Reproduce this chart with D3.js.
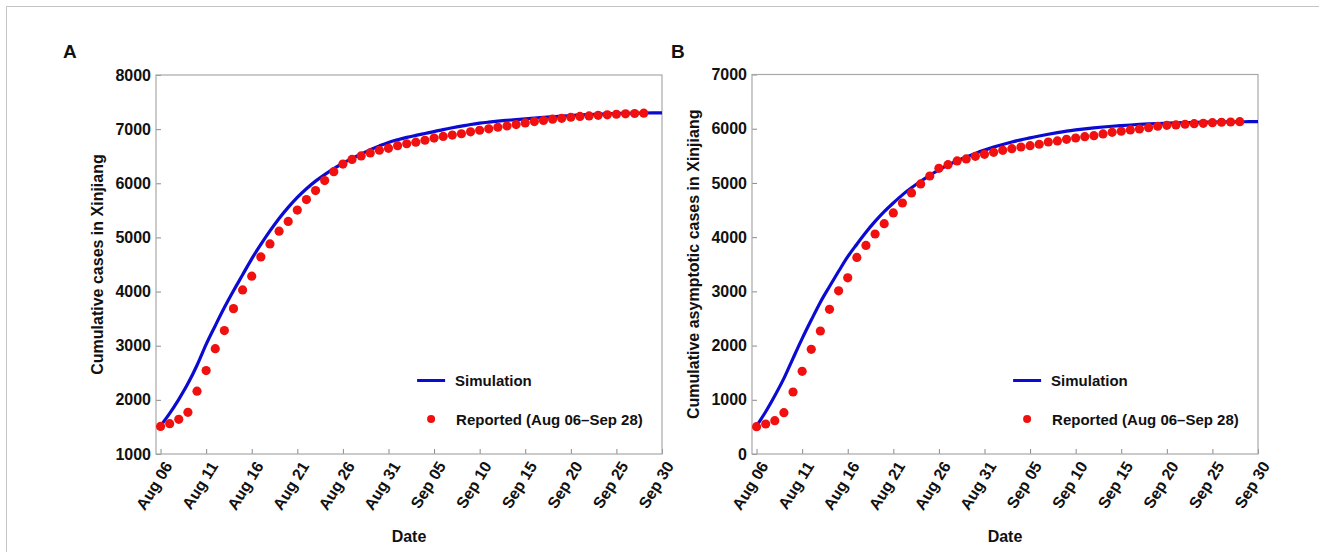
<!DOCTYPE html>
<html>
<head>
<meta charset="utf-8">
<script src="https://cdn.jsdelivr.net/npm/d3@7"></script>
<style>
  body { margin: 0; background: #fff; }
  text { font-family: "Liberation Sans", Arial, sans-serif; font-weight: bold; fill: #111; }
</style>
</head>
<body>
<svg id="fig" width="1319" height="552"></svg>
<script>
(function() {
  // reported data start Aug 06, one value per day up to Sep 28
  var startDay = '2022-08-06';
  var xTickLabels = ['Aug 06', 'Aug 11', 'Aug 16', 'Aug 21', 'Aug 26', 'Aug 31',
                     'Sep 05', 'Sep 10', 'Sep 15', 'Sep 20', 'Sep 25', 'Sep 30'];
  var yTicksA = [1000, 2000, 3000, 4000, 5000, 6000, 7000, 8000];
  var yTicksB = [0, 1000, 2000, 3000, 4000, 5000, 6000, 7000];

  var reportedA = [1510, 1560, 1640, 1770, 2160, 2540, 2945, 3280, 3685, 4030,
                   4285, 4640, 4880, 5115, 5295, 5505, 5700, 5865, 6050, 6215,
                   6355, 6440, 6505, 6560, 6610, 6645, 6695, 6730, 6760, 6795,
                   6835, 6865, 6890, 6915, 6950, 6980, 7005, 7035, 7060, 7085,
                   7115, 7140, 7160, 7185, 7200, 7220, 7235, 7245, 7255, 7265,
                   7275, 7283, 7289, 7295];
  // simulation runs Aug 06 .. Sep 30
  var simA = [1520, 1750, 2010, 2300, 2640, 3025, 3370, 3705, 4015, 4310,
              4605, 4870, 5120, 5350, 5555, 5740, 5900, 6040, 6160, 6270,
              6370, 6460, 6540, 6620, 6690, 6755, 6805, 6848, 6885, 6920,
              6955, 6992, 7025, 7055, 7085, 7110, 7130, 7148, 7163, 7177,
              7190, 7203, 7216, 7228, 7240, 7251, 7262, 7270, 7277, 7284,
              7289, 7293, 7296, 7298, 7300, 7302];

  var reportedB = [504, 553, 615, 762, 1144, 1525, 1931, 2269, 2669, 3010,
                   3250, 3625, 3848, 4058, 4248, 4446, 4630, 4815, 4981, 5128,
                   5270, 5337, 5405, 5442, 5491, 5528, 5565, 5602, 5632, 5663,
                   5687, 5713, 5755, 5774, 5805, 5829, 5853, 5872, 5903, 5934,
                   5953, 5977, 5995, 6019, 6045, 6063, 6070, 6082, 6093, 6100,
                   6112, 6119, 6124, 6130];
  var simB = [520, 780, 1075, 1395, 1765, 2128, 2470, 2800, 3090, 3370,
              3640, 3870, 4090, 4290, 4470, 4630, 4780, 4910, 5030, 5140,
              5240, 5330, 5410, 5480, 5545, 5605, 5660, 5710, 5755, 5795,
              5830, 5865, 5898, 5928, 5955, 5978, 5998, 6016, 6032, 6046,
              6058, 6069, 6079, 6088, 6095, 6101, 6107, 6112, 6116, 6120,
              6123, 6125, 6127, 6128, 6129, 6130];

  var parse = d3.timeParse('%Y-%m-%d');
  var t0 = parse(startDay);
  var dayOf = function(i) { return d3.timeDay.offset(t0, i); };
  var tickDates = xTickLabels.map(function(s) {
    return d3.timeParse('%Y %b %d')('2022 ' + s);
  });

  var svg = d3.select('#fig');

  svg.append('rect')
    .attr('x', 6.5).attr('y', 6.5)
    .attr('width', 1400).attr('height', 600)
    .attr('fill', 'none').attr('stroke', '#c4c4c4');

  var panel = function(opts) {
    var x = d3.scaleTime()
      .domain([d3.timeHour.offset(t0, -12), tickDates[tickDates.length - 1]])
      .range([opts.left, opts.right]);
    var y = d3.scaleLinear()
      .domain(opts.yDomain)
      .range([opts.bottom, opts.top]);

    var g = svg.append('g');
    var clipId = 'clip-' + opts.letter;

    g.append('clipPath').attr('id', clipId)
      .append('rect')
      .attr('x', opts.left).attr('y', opts.top)
      .attr('width', opts.right - opts.left).attr('height', opts.bottom - opts.top);

    // axes, ticks pointing inward
    var xAxis = g.append('g')
      .attr('transform', 'translate(0,' + opts.bottom + ')')
      .call(d3.axisBottom(x).tickValues(tickDates).tickSize(-5).tickFormat(d3.timeFormat('%b %d')));
    xAxis.select('.domain').remove();
    xAxis.selectAll('.tick line').attr('stroke', '#8a8a8a');
    xAxis.selectAll('.tick text')
      .attr('font-size', 16)
      .attr('text-anchor', 'end')
      .attr('dy', null)
      .attr('y', null)
      .attr('transform', 'translate(12,12) rotate(-58)');

    var yAxis = g.append('g')
      .attr('transform', 'translate(' + opts.left + ',0)')
      .call(d3.axisLeft(y).tickValues(opts.yTicks).tickSize(-5).tickPadding(5).tickFormat(d3.format('d')));
    yAxis.select('.domain').remove();
    yAxis.selectAll('.tick line').attr('stroke', '#8a8a8a');
    yAxis.selectAll('.tick text').attr('font-size', 16);

    g.append('rect')
      .attr('x', opts.left).attr('y', opts.top)
      .attr('width', opts.right - opts.left).attr('height', opts.bottom - opts.top)
      .attr('fill', 'none').attr('stroke', '#a8a8a8').attr('stroke-width', 1.2);

    var line = d3.line()
      .x(function(d, i) { return x(dayOf(i)); })
      .y(function(d) { return y(d); })
      .curve(d3.curveMonotoneX);

    g.append('path')
      .datum(opts.sim)
      .attr('clip-path', 'url(#' + clipId + ')')
      .attr('d', line)
      .attr('fill', 'none')
      .attr('stroke', '#0a0ad2')
      .attr('stroke-width', 3.2);

    g.selectAll('circle.rep').data(opts.reported).enter()
      .append('circle').attr('class', 'rep')
      .attr('cx', function(d, i) { return x(dayOf(i)); })
      .attr('cy', function(d) { return y(d); })
      .attr('r', 4.6)
      .attr('fill', '#f01010');

    // legend
    var lx = opts.left + (opts.right - opts.left) * 0.516;
    g.append('line')
      .attr('x1', lx).attr('x2', lx + 28)
      .attr('y1', 380.5).attr('y2', 380.5)
      .attr('stroke', '#0a0ad2').attr('stroke-width', 3);
    g.append('text').attr('x', lx + 38).attr('y', 386).attr('font-size', 15).text('Simulation');
    g.append('circle').attr('cx', lx + 14).attr('cy', 419).attr('r', 4).attr('fill', '#f01010');
    g.append('text').attr('x', lx + 39).attr('y', 424.5).attr('font-size', 15).text('Reported (Aug 06\u2013Sep 28)');

    // titles
    g.append('text')
      .attr('x', (opts.left + opts.right) / 2).attr('y', 542)
      .attr('text-anchor', 'middle').attr('font-size', 16).text('Date');
    g.append('text')
      .attr('transform', 'translate(' + opts.yTitleX + ',' + ((opts.top + opts.bottom) / 2) + ') rotate(-90)')
      .attr('text-anchor', 'middle').attr('font-size', 16).text(opts.yTitle);
    g.append('text')
      .attr('x', opts.letterX).attr('y', 58)
      .attr('font-size', 19).text(opts.letter);
  };

  panel({
    letter: 'A', letterX: 63,
    left: 156, right: 662, top: 75, bottom: 454,
    yDomain: [1000, 8000], yTicks: yTicksA,
    yTitle: 'Cumulative cases in Xinjiang', yTitleX: 103,
    reported: reportedA, sim: simA
  });

  panel({
    letter: 'B', letterX: 671,
    left: 752, right: 1258, top: 74.5, bottom: 454,
    yDomain: [0, 7000], yTicks: yTicksB,
    yTitle: 'Cumulative asymptotic cases in Xinjiang', yTitleX: 699,
    reported: reportedB, sim: simB
  });

}).call(this);
</script>
</body>
</html>
